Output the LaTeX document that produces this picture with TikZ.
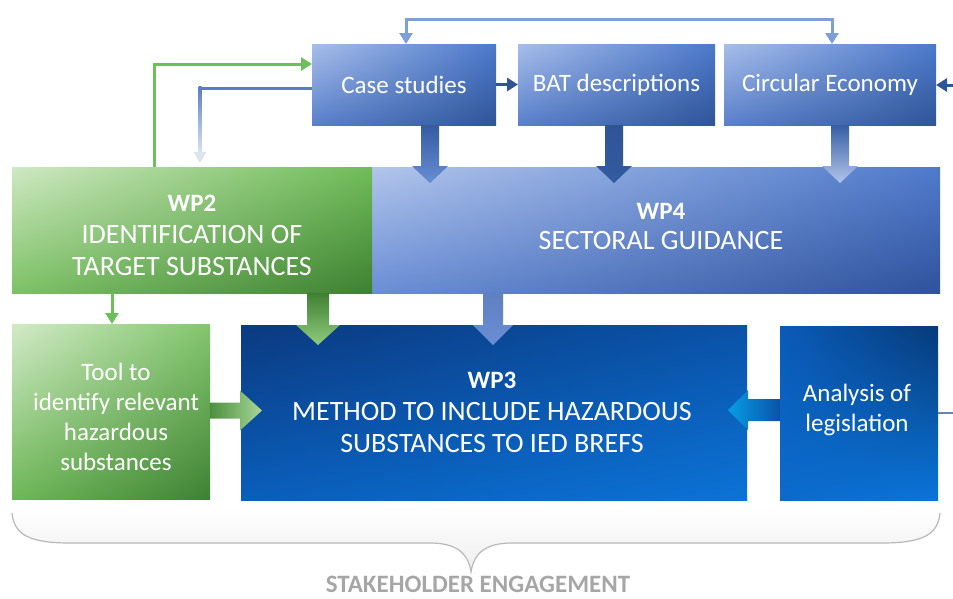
\documentclass[tikz,border=0pt]{standalone}
\usepackage{fontspec}
\setmainfont{Carlito}
\usetikzlibrary{shadings,arrows.meta,calc}
\definecolor{csUL}{HTML}{A8BEE9}
\definecolor{csUR}{HTML}{4C79CC}
\definecolor{csLL}{HTML}{5A80CC}
\definecolor{csLR}{HTML}{2F5597}
\definecolor{w4UL}{HTML}{B2C5EB}
\definecolor{w4UR}{HTML}{4F7ACB}
\definecolor{w4LL}{HTML}{6A8ED5}
\definecolor{w4LR}{HTML}{30529C}
\definecolor{w2UL}{HTML}{CFE8C2}
\definecolor{w2UR}{HTML}{70BC58}
\definecolor{w2LL}{HTML}{7DC266}
\definecolor{w2LR}{HTML}{3E8032}
\definecolor{tlUL}{HTML}{D3EAC8}
\definecolor{tlUR}{HTML}{82C66C}
\definecolor{tlLL}{HTML}{6EB857}
\definecolor{tlLR}{HTML}{3F8134}
\definecolor{w3UL}{HTML}{0B3A80}
\definecolor{w3UR}{HTML}{0A52A8}
\definecolor{w3LL}{HTML}{0A5EBB}
\definecolor{w3LR}{HTML}{0B73D6}
\definecolor{anUL}{HTML}{0A5BB8}
\definecolor{anUR}{HTML}{073A78}
\definecolor{anLL}{HTML}{0B6BCC}
\definecolor{anLR}{HTML}{0A74D8}
\definecolor{loopc}{HTML}{7E9ED8}
\definecolor{greenc}{HTML}{6CC05A}
\definecolor{retc}{HTML}{5A7CC8}
\definecolor{retlight}{HTML}{DCE5EE}
\definecolor{darkc}{HTML}{2F5597}
\definecolor{outc}{HTML}{6A84AA}
\definecolor{sec}{HTML}{A6A6A6}
% block arrows: #1 start, #2 tip, #3 half shaft, #4 half head, #5 head length, #6 start colour, #7 tip colour
\newcommand\vblock[7]{%
  \shade[top color=#6,bottom color=#7] let \p1=(#1), \p2=(#2) in
    (\x1-#3,\y1) -- (\x1+#3,\y1) -- (\x1+#3,\y2+#5) -- (\x1+#4,\y2+#5) -- (\x1,\y2)
    -- (\x1-#4,\y2+#5) -- (\x1-#3,\y2+#5) -- cycle;}
\newcommand\hblockR[7]{% pointing right
  \shade[left color=#6,right color=#7] let \p1=(#1), \p2=(#2) in
    (\x1,\y1+#3) -- (\x2-#5,\y1+#3) -- (\x2-#5,\y1+#4) -- (\x2,\y1)
    -- (\x2-#5,\y1-#4) -- (\x2-#5,\y1-#3) -- (\x1,\y1-#3) -- cycle;}
\newcommand\hblockL[7]{% pointing left
  \shade[right color=#6,left color=#7] let \p1=(#1), \p2=(#2) in
    (\x1,\y1+#3) -- (\x2+#5,\y1+#3) -- (\x2+#5,\y1+#4) -- (\x2,\y1)
    -- (\x2+#5,\y1-#4) -- (\x2+#5,\y1-#3) -- (\x1,\y1-#3) -- cycle;}
\newcommand\wplabel[1]{{\fontsize{25}{32}\selectfont\textbf{#1}}}
\begin{document}
\begin{tikzpicture}[x=1pt,y=-1pt,
  quad/.style n args={4}{shade, shading=bilinear interpolation,
     upper left=#1, upper right=#2, lower left=#3, lower right=#4},
  box/.style={inner sep=0pt, outer sep=0pt, anchor=north west, text=white,
     align=center, font=\fontsize{25}{30}\selectfont},
  lbl/.style={inner sep=0pt, text=white, align=center},
  caplbl/.style={lbl, font=\fontsize{28}{32}\selectfont},
  tipA/.style={-{Triangle[width=13pt,length=11pt]}},
  loopline/.style={draw=loopc, line width=3pt},
  greenline/.style={draw=greenc, line width=3pt, tipA},
  darkarrow/.style={draw=darkc, line width=3pt, tipA},
  outline/.style={draw=outc, line width=2.5pt}]
\useasboundingbox (0,0) rectangle (953,598);

% top row
\node[box, quad={csUL}{csUR}{csLL}{csLR}, minimum width=184pt, minimum height=81pt] (cs) at (312,44) {Case studies};
\node[box, quad={csUL}{csUR}{csLL}{csLR}, minimum width=197pt, minimum height=81pt] (bat) at (518,44) {BAT descriptions};
\node[box, quad={csUL}{csUR}{csLL}{csLR}, minimum width=212pt, minimum height=81pt] (ce) at (724,44) {Circular Economy};

% middle row
\node[box, quad={w4UL}{w4UR}{w4LL}{w4LR}, minimum width=568pt, minimum height=126pt] (wp4) at (372,167) {};
\node[caplbl, font=\fontsize{28}{30}\selectfont] (wp4t) at ($(wp4.center)+(5,-4)$) {\wplabel{WP4}\\SECTORAL GUIDANCE};
\node[box, quad={w2UL}{w2UR}{w2LL}{w2LR}, minimum width=360pt, minimum height=126pt] (wp2) at (12,167) {};
\node[caplbl] (wp2t) at ($(wp2.center)+(0,5)$) {\wplabel{WP2}\\IDENTIFICATION OF\\TARGET SUBSTANCES};

% bottom row
\node[box, quad={tlUL}{tlUR}{tlLL}{tlLR}, minimum width=198pt, minimum height=175pt] (tool) at (12,324) {};
\node[lbl, font=\fontsize{25}{30}\selectfont] (toolt) at ($(tool.center)+(5,5)$) {Tool to\\identify relevant\\hazardous\\substances};
\node[box, quad={w3UL}{w3UR}{w3LL}{w3LR}, minimum width=506pt, minimum height=175pt] (wp3) at (241,325) {};
\node[caplbl] (wp3t) at ($(wp3.center)+(-2,0)$) {\wplabel{WP3}\\METHOD TO INCLUDE HAZARDOUS\\SUBSTANCES TO IED BREFS};
\node[box, quad={anUL}{anUR}{anLL}{anLR}, minimum width=158pt, minimum height=174pt] (an) at (780,326) {};
\node[lbl, font=\fontsize{25}{30}\selectfont] (ant) at ($(an.center)+(-2,-3)$) {Analysis of\\legislation};

% block arrows into WP4
\coordinate (csB) at ($(cs.south west)+(118,0)$);
\coordinate (batB) at ($(bat.south west)+(96,0)$);
\coordinate (ceB) at ($(ce.south west)+(116,0)$);
\vblock{csB}{$(csB |- wp4.north)+(0,16)$}{9}{18}{17}{csLR!80!csUR}{csUR!85!white}
\vblock{batB}{$(batB |- wp4.north)+(0,16)$}{9}{18}{17}{csLR}{csLR!85!csUR}
\vblock{ceB}{$(ceB |- wp4.north)+(0,16)$}{9}{18}{17}{csLR!75!csUR}{w4UL}

% block arrows into WP3
\coordinate (w2B) at ($(wp2.south west)+(306,0)$);
\coordinate (w4B) at ($(wp4.south west)+(121,0)$);
\vblock{w2B}{$(w2B |- wp3.north)+(0,20)$}{11}{22}{20}{w2LR}{w2LL!85!white}
\vblock{w4B}{$(w4B |- wp3.north)+(0,20)$}{10}{20}{20}{w4LL!90!black}{w4LL}
\coordinate (tlR) at ($(tool.east)+(0,-1)$);
\hblockR{tlR}{$(tlR -| wp3.west)+(21,0)$}{8}{20}{22}{tlLR!80!tlUR}{tlUR!70!white}
\coordinate (anL) at ($(an.west)+(0,-3)$);
\hblockL{anL}{$(anL -| wp3.east)+(-19,0)$}{11}{20}{20}{w3UR}{anLR!70!cyan}

% thin connectors
\coordinate (csT) at ($(cs.north west)+(94,0)$);
\coordinate (ceT) at ($(ce.north west)+(108,0)$);
\draw[loopline, {Triangle[width=13pt,length=11pt]}-{Triangle[width=13pt,length=11pt]}]
  (csT) |- ($(ceT)+(0,-25)$) -- (ceT);
\coordinate (w2T) at ($(wp2.north west)+(142,0)$);
\draw[greenline] (w2T) |- ($(cs.north west)+(0,20)$);
\coordinate (csL) at ($(cs.north west)+(0,44)$);
\coordinate (w2R) at ($(wp2.north west)+(188,-4)$);
\draw[retc, line width=3pt] (csL) -- ($(csL -| w2R)+(-1.5,0)$);
\shade[top color=retc, bottom color=retlight] ($(csL -| w2R)+(-1.5,-1.5)$) rectangle ($(w2R)+(1.5,-10)$);
\fill[retlight] ($(w2R)+(-6.5,-11)$) -- ($(w2R)+(6.5,-11)$) -- (w2R) -- cycle;
\draw[darkarrow] (cs.east) -- (bat.west);
\coordinate (rin) at (953,85);
\draw[darkarrow] (rin) -- (rin -| ce.east);
\coordinate (w2S) at ($(wp2.south west)+(100,0)$);
\draw[greenline] (w2S) -- (w2S |- tool.north);
\coordinate (rout) at (953,413);
\draw[outline] (an.east) -- (rout);

% stakeholder brace
\shade[top color=white, bottom color=black!7]
  (12,508) -- (940,508) -- (940,513) .. controls (938,535) and (922,543) .. (882,543)
  -- (512,543) .. controls (487,543) and (474,552) .. (471,572)
  .. controls (468,552) and (455,543) .. (430,543) -- (70,543)
  .. controls (30,543) and (14,535) .. (12,513) -- cycle;
\draw[black!28, line width=1.2pt]
  (12,513) .. controls (14,535) and (30,543) .. (70,543) -- (430,543)
  .. controls (455,543) and (468,552) .. (471,572)
  .. controls (474,552) and (487,543) .. (512,543) -- (882,543)
  .. controls (922,543) and (938,535) .. (940,513);
\node[inner sep=0pt, anchor=base, text=sec, font=\bfseries\fontsize{25}{25}\selectfont] (se) at (478,592) {STAKEHOLDER ENGAGEMENT};
\end{tikzpicture}
\end{document}
